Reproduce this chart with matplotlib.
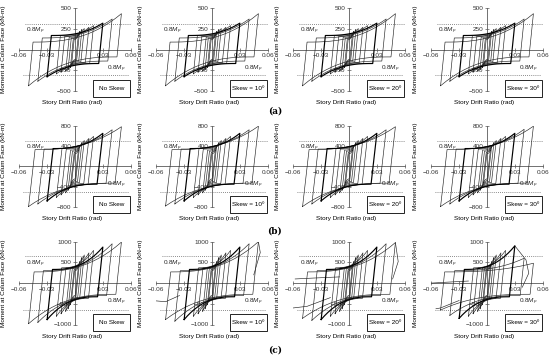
import numpy as np
import matplotlib.pyplot as plt
from matplotlib.patches import Rectangle

plt.rcParams['font.family'] = ['Liberation Sans', 'DejaVu Sans']
plt.rcParams['mathtext.fontset'] = 'custom'
plt.rcParams['mathtext.it'] = 'Liberation Sans:italic'
plt.rcParams['mathtext.rm'] = 'Liberation Sans'

# loading protocol drift amplitudes (rad)
drift_amps = [0.00375, 0.005, 0.0075, 0.01, 0.015, 0.02, 0.03, 0.04, 0.05]

row_labels = ['(a)', '(b)', '(c)']
skew_labels = ['No Skew', 'Skew = 10º', 'Skew = 20º', 'Skew = 30º']
y_max = [500, 800, 1000]
y_ticks = [[-500, -250, 0, 250, 500], [-800, -400, 0, 400, 800], [-1000, -500, 0, 500, 1000]]
mp08 = [315, 500, 650]                 # 0.8Mp level (kN-m)
stiff = [110000, 160000, 210000]       # elastic unloading slope (kN-m/rad)

# peak moments per cycle at +drift / -drift, and moment where reloading yields
peak_pos = [
    [[190, 220, 245, 255, 270, 290, 320, 370, 435]] * 4,
    [[330, 400, 470, 510, 550, 590, 650, 720, 780],
     [330, 400, 470, 510, 550, 590, 650, 720, 790],
     [330, 400, 470, 510, 550, 590, 650, 720, 780],
     [330, 400, 470, 510, 550, 590, 650, 730, 790]],
    [[420, 520, 620, 680, 730, 790, 870, 950, 990],
     [420, 520, 620, 680, 730, 790, 870, 950, 1000],
     [420, 520, 620, 680, 730, 790, 870, 950, 980],
     [420, 520, 620, 680, 730, 790, 900, 600, 480]],
]
peak_neg = [
    [[190, 220, 245, 260, 275, 295, 330, 385, 440]] * 4,
    [[330, 400, 470, 520, 560, 610, 680, 740, 790],
     [330, 400, 470, 520, 560, 610, 680, 740, 780],
     [330, 400, 470, 520, 560, 610, 680, 740, 790],
     [330, 400, 470, 520, 560, 610, 680, 740, 790]],
    [[420, 520, 620, 680, 740, 800, 880, 950, 980],
     [420, 520, 620, 680, 740, 800, 880, 920, 880],
     [420, 520, 620, 680, 740, 800, 880, 900, 850],
     [420, 520, 620, 680, 740, 800, 850, 780, 650]],
]
knee = [
    [120, 130, 140, 150, 160, 170, 170, 140, 90],
    [250, 280, 300, 320, 340, 350, 350, 340, 330],
    [300, 330, 350, 360, 370, 370, 330, 300, 270],
]
bold_cycle = 6

# post-peak branches (drift, moment)
tails = {
    (2, 1): [([0.05, 0.052, 0.045], [1000, 740, 200]),
             ([-0.035, -0.05, -0.06], [-300, -450, -430])],
    (2, 2): [([0.05, 0.053, 0.047], [980, 520, 100]),
             ([-0.02, -0.045, -0.06], [-350, -560, -600]),
             ([-0.01, -0.04, -0.058], [150, 120, 100])],
    (2, 3): [([0.03, 0.042, 0.045, 0.038], [900, 560, 240, -100]),
             ([-0.02, -0.045, -0.06], [50, 20, 0]),
             ([-0.03, -0.05, -0.055], [-420, -600, -620])],
}

# pixel layout of the original figure
spine_x = [75, 212, 349, 487]
half_w = 55.7
row_top = [8.3, 125.7, 241.7]
row_bot = [90.7, 207.0, 324.5]
row_lab_y = [111, 231, 350]
W, H = 550, 357

fig = plt.figure(figsize=(5.5, 3.57), dpi=100)


def branch(x0, y0, x1, y1, n=16):
    t = np.linspace(0, 1, n)
    return x0 + (x1 - x0) * t, y0 + (y1 - y0) * t ** 2.6


def loop_xy(d, pp, pn, q, k):
    xs, ys = [-d], [-pn]
    xk = min(-d + (pn + q) / k, d)
    if xk < d:
        bx, by = branch(xk, q, d, pp)
        xs += list(bx)
        ys += list(by)
    else:
        xs.append(d)
        ys.append(pp)
    xk2 = max(d - (pp + q) / k, -d)
    if xk2 > -d:
        bx, by = branch(xk2, -q, -d, -pn)
        xs += list(bx)
        ys += list(by)
    else:
        xs.append(-d)
        ys.append(-pn)
    return xs, ys


for r in range(3):
    for c in range(4):
        left = (spine_x[c] - half_w) / W
        bottom = 1 - row_bot[r] / H
        ax = fig.add_axes([left, bottom, 2 * half_w / W, (row_bot[r] - row_top[r]) / H])
        ax.set_xlim(-0.06, 0.06)
        ax.set_ylim(-y_max[r], y_max[r])
        ax.patch.set_alpha(0)
        for s in ['top', 'right']:
            ax.spines[s].set_visible(False)
        ax.spines['left'].set_position('zero')
        ax.spines['bottom'].set_position('zero')
        for s in ['left', 'bottom']:
            ax.spines[s].set_linewidth(0.6)
            ax.spines[s].set_color('0.35')
        ax.set_xticks([-0.06, -0.03, 0.03, 0.06])
        ax.set_xticklabels(['\u22120.06', '\u22120.03', '0.03', '0.06'])
        ax.set_yticks(y_ticks[r])
        ax.set_yticklabels([('' if v == 0 else f'{v}'.replace('-', '\u2212')) for v in y_ticks[r]])
        ax.tick_params(direction='inout', length=3, width=0.5, color='0.35',
                       labelsize=4.6, pad=1, labelcolor='0.2')

        k = stiff[r]
        for i, d in enumerate(drift_amps):
            xs, ys = loop_xy(d, peak_pos[r][c][i], peak_neg[r][c][i], knee[r][i], k)
            xs.append(xs[0])
            ys.append(ys[0])
            if i == bold_cycle:
                ax.plot(xs, ys, color='black', lw=0.85, zorder=4)
            else:
                ax.plot(xs, ys, color='0.15', lw=0.45, zorder=3)
        for tx, ty in tails.get((r, c), []):
            ax.plot(tx, ty, color='0.15', lw=0.45, zorder=3)

        ax.axhline(mp08[r], xmin=0.05, xmax=1.0, ls=(0, (1, 1.5)), color='0.4', lw=0.6, zorder=1)
        ax.axhline(-mp08[r], xmin=0.03, xmax=0.98, ls=(0, (1, 1.5)), color='0.4', lw=0.6, zorder=1)
        ax.text(0.06, 0.73, r'$\mathit{0.8M_p}$', transform=ax.transAxes, fontsize=4.6,
                ha='left', va='center', color='0.15')
        ax.text(0.95, 0.27, r'$\mathit{0.8M_p}$', transform=ax.transAxes, fontsize=4.6,
                ha='right', va='center', color='0.15')

        ax.add_patch(Rectangle((0.66, -0.076), 0.332, 0.206, transform=ax.transAxes,
                               fc='white', ec='black', lw=0.6, clip_on=False, zorder=5))
        ax.text(0.826, 0.027, skew_labels[c], transform=ax.transAxes, fontsize=4.6,
                ha='center', va='center', zorder=6)

        ax.set_xlabel('Story Drift Ratio (rad)', fontsize=4.6)
        ax.xaxis.set_label_coords(0.47, -0.113)
        ax.set_ylabel('Moment at Colum Face (kN-m)', fontsize=4.6)
        ax.yaxis.set_label_coords(-0.12, 0.5)

    fig.text(275 / W, 1 - row_lab_y[r] / H, row_labels[r], fontsize=6.5, fontweight='bold',
             family='DejaVu Serif', ha='center', va='center')

fig.savefig('out.png', dpi=100)
